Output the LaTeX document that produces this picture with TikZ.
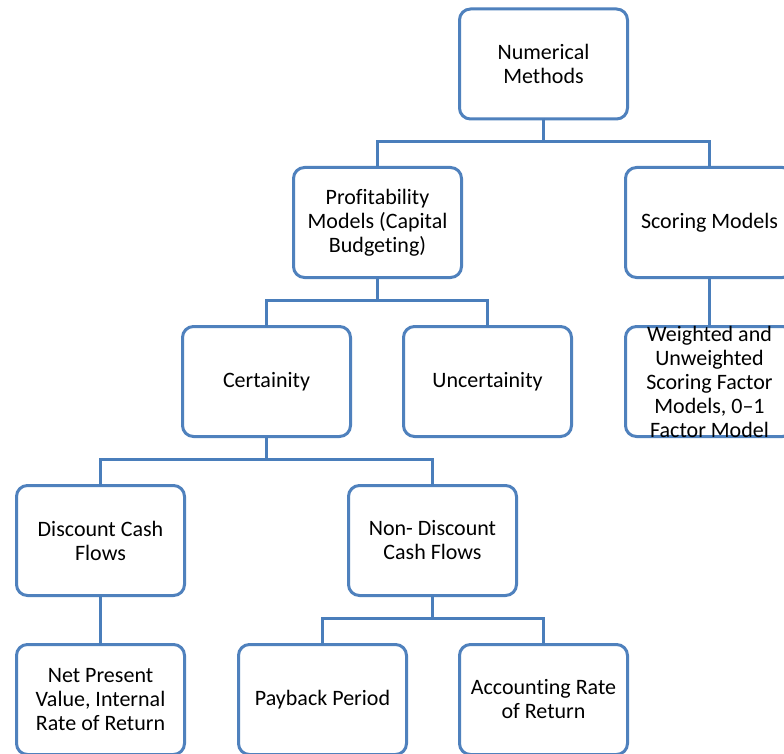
\documentclass[tikz,border=0pt]{standalone}
\usepackage{fontspec}
\setmainfont{Carlito}[Ligatures={NoCommon}]
\definecolor{boxblue}{HTML}{4F81BD}
\definecolor{lineblue}{HTML}{4A7EBB}
\begin{document}
\begin{tikzpicture}[x=1pt,y=-1pt,
  box/.style={draw=boxblue, line width=3pt, rounded corners=11pt,
    minimum width=168pt, minimum height=110pt, inner sep=0pt, outer sep=0pt,
    align=center, font=\fontsize{22}{24}\selectfont, text=black},
  conn/.style={draw=lineblue, line width=3pt}]
\fill[white] (0,0) rectangle (784,754);
\clip (0,0) rectangle (784,754);
\node[box] (nm) at (543.5,64) {Numerical\\Methods};
\node[box] (prof) at (377.5,222.5) {Profitability\\Models (Capital\\Budgeting)};
\node[box] (score) at (709.5,222.5) {Scoring Models};
\node[box, inner ysep=-7pt] (wt) at (709.5,381.5) {Weighted and\\Unweighted\\Scoring Factor\\Models, 0–1\\Factor Model};
\node[box] (cert) at (266.5,381.5) {Certainity};
\node[box] (unc) at (487.5,381.5) {Uncertainity};
\node[box] (dcf) at (100.5,540.5) {Discount Cash\\Flows};
\node[box] (ndcf) at (432.5,540.5) {Non- Discount\\Cash Flows};
\node[box] (npv) at (100.5,699.5) {Net Present\\Value, Internal\\Rate of Return};
\node[box] (pb) at (322.5,699.5) {Payback Period};
\node[box] (arr) at (543.5,699.5) {Accounting Rate\\of Return};
\draw[conn] (nm.south) -- ++(0,23) -| (prof.north);
\draw[conn] (nm.south) -- ++(0,23) -| (score.north);
\draw[conn] (score.south) -- (wt.north);
\draw[conn] (prof.south) -- ++(0,23) -| (cert.north);
\draw[conn] (prof.south) -- ++(0,23) -| (unc.north);
\draw[conn] (cert.south) -- ++(0,23) -| (dcf.north);
\draw[conn] (cert.south) -- ++(0,23) -| (ndcf.north);
\draw[conn] (dcf.south) -- (npv.north);
\draw[conn] (ndcf.south) -- ++(0,23) -| (pb.north);
\draw[conn] (ndcf.south) -- ++(0,23) -| (arr.north);
\end{tikzpicture}
\end{document}
